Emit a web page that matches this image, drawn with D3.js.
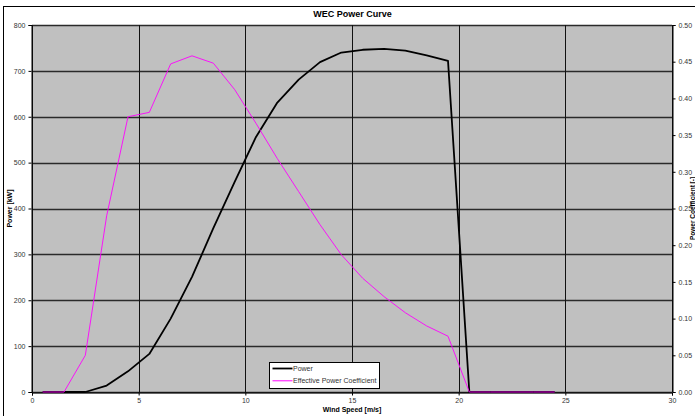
<!DOCTYPE html>
<html><head><meta charset="utf-8">
<script src="https://cdn.jsdelivr.net/npm/d3@7"></script>
<style>
html,body{margin:0;padding:0;background:#fff;overflow:hidden;}
svg{display:block;font-family:"Liberation Sans",Arial,sans-serif;}
</style></head>
<body>
<svg id="chart" width="695" height="416"></svg>
<script>
const windSpeed = [0.5,1.5,2.5,3.5,4.5,5.5,6.5,7.5,8.5,9.5,10.5,11.5,12.5,13.5,14.5,15.5,16.5,17.5,18.5,19.5,20.5,21.5,22.5,23.5,24.5];
const power = [0,0,0,14,45,83,160,251,357,458,556,631,681,719,740,746,748,744,734,722,0,0,0,0,0];
const powerCoeff = [0,0,0.05,0.24,0.375,0.381,0.447,0.458,0.448,0.412,0.366,0.318,0.273,0.228,0.187,0.155,0.130,0.108,0.090,0.076,0,0,0,0,0];
const xTicks = [0,5,10,15,20,25,30];
const yTicks = [0,100,200,300,400,500,600,700,800];
const y2Ticks = [0,0.05,0.10,0.15,0.20,0.25,0.30,0.35,0.40,0.45,0.50];
const seriesNames = ["Power","Effective Power Coefficient"];
const seriesColors = ["#000000","#FF00FF"];

const svg = d3.select("#chart");
const L=32, R=672, T=25, B=392;
const x = d3.scaleLinear().domain([0,30]).range([L,R]);
const y = d3.scaleLinear().domain([0,800]).range([B,T]);
const y2 = d3.scaleLinear().domain([0,0.5]).range([B,T]);

// outer chart border
svg.append("rect").attr("x",3.5).attr("y",6.5).attr("width",700).attr("height",420)
  .attr("fill","#fff").attr("stroke","#000").attr("stroke-width",1);

// plot background
svg.append("rect").attr("x",L).attr("y",T).attr("width",R-L).attr("height",B-T).attr("fill","#C0C0C0");

// gridlines
const g = svg.append("g");
g.selectAll("line.h").data(yTicks).join("line")
  .attr("x1",L).attr("x2",R).attr("y1",d=>Math.round(y(d))+0.5).attr("y2",d=>Math.round(y(d))+0.5)
  .attr("stroke","#2a2a2a").attr("stroke-width",1.3);
g.selectAll("line.v").data(xTicks).join("line")
  .attr("y1",T).attr("y2",B).attr("x1",d=>Math.round(x(d))+0.5).attr("x2",d=>Math.round(x(d))+0.5)
  .attr("stroke","#111").attr("stroke-width",1);

// axes
const ax = d3.axisBottom(x).tickValues(xTicks).tickSize(3).tickFormat(d3.format("d"));
const ay = d3.axisLeft(y).tickValues(yTicks).tickSize(3).tickFormat(d3.format("d"));
const ay2 = d3.axisRight(y2).tickValues(y2Ticks).tickSize(3).tickFormat(d3.format(".2f"));
function style(sel){
  sel.select(".domain").attr("stroke","#000").attr("stroke-width",1);
  sel.selectAll(".tick line").attr("stroke","#000");
  sel.selectAll(".tick text").attr("fill","#333").attr("font-size","7px").attr("font-family","Liberation Sans, Arial, sans-serif");
}
svg.append("g").attr("transform",`translate(0,${B+0.5})`).call(ax).call(style)
  .call(s=>s.selectAll(".tick text").attr("dy","0.9em").attr("y",4));
svg.append("g").attr("transform",`translate(${L-0.5},0)`).call(ay).call(style)
  .call(s=>s.selectAll(".tick text").attr("x",-6));
svg.append("g").attr("transform",`translate(${R+0.5},0)`).call(ay2).call(style)
  .call(s=>s.selectAll(".tick text").attr("x",6));

// lines
const xs = windSpeed;
const lp = d3.line().x((d,i)=>x(xs[i])).y(d=>y(d));
const lc = d3.line().x((d,i)=>x(xs[i])).y(d=>y2(d));
svg.append("path").datum(power).attr("d",lp).attr("fill","none").attr("stroke",seriesColors[0]).attr("stroke-width",1.8).attr("stroke-linejoin","round");
svg.append("path").datum(powerCoeff).attr("d",lc).attr("fill","none").attr("stroke",seriesColors[1]).attr("stroke-width",1).attr("stroke-linejoin","round").attr("opacity",0.9);

// titles
svg.append("text").attr("x",352.5).attr("y",17).attr("text-anchor","middle").attr("font-size","9px").attr("font-weight","bold").text("WEC Power Curve");
svg.append("text").attr("x",352).attr("y",412).attr("text-anchor","middle").attr("font-size","7px").attr("font-weight","bold").text("Wind Speed [m/s]");
svg.append("text").attr("transform",`translate(12,${(T+B)/2}) rotate(-90)`).attr("text-anchor","middle").attr("font-size","7px").attr("font-weight","bold").text("Power [kW]");
svg.append("text").attr("transform",`translate(694.5,${(T+B)/2}) rotate(-90)`).attr("text-anchor","middle").attr("font-size","6.5px").attr("font-weight","bold").text("Power Coefficient [-]");

// legend
const lg = svg.append("g");
lg.append("rect").attr("x",269.5).attr("y",362.5).attr("width",110).attr("height",26).attr("fill","#fff").attr("stroke","#000").attr("stroke-width",1);
seriesNames.forEach((n,i)=>{
  const yy = 368.5 + i*12.3;
  lg.append("line").attr("x1",272.5).attr("x2",292.5).attr("y1",yy).attr("y2",yy).attr("stroke",seriesColors[i]).attr("stroke-width",i===0?1.8:1);
  lg.append("text").attr("x",293).attr("y",yy).attr("dy","0.35em").attr("font-size","7px").attr("fill","#333").text(n);
});
</script>
</body></html>
